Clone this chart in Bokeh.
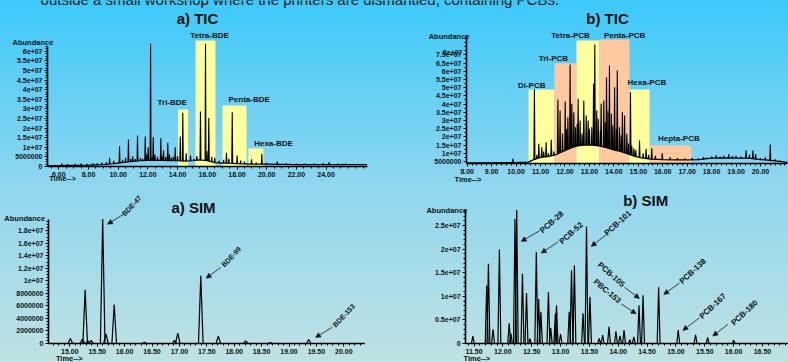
import numpy as np
from bokeh.plotting import figure
from bokeh.layouts import column, row
from bokeh.models import FixedTicker, Label, Arrow, NormalHead, NumeralTickFormatter
from bokeh.embed import file_html
from bokeh.resources import INLINE

FONT = "Liberation Sans"
INK = "#111111"
YELLOW = "#FFFF9E"
PEACH = "#FFC9A0"

# ---------------- data ----------------
top_caption = "outside a small workshop where the printers are dismantled, containing PCBs."

# a) TIC (BDE)
tic_a_peak_t = [6.2, 6.6, 7.1, 7.5, 7.9, 8.3, 8.6, 8.9, 9.2, 9.42,
                9.7, 10.09, 10.3, 10.5, 10.69, 10.85, 10.98, 11.15, 11.3, 11.5,
                11.65, 11.82, 11.93, 12.02, 12.18, 12.28, 12.36, 12.47, 12.65, 12.87,
                12.95, 13.05, 13.2, 13.34, 13.45, 13.57, 13.7, 13.84, 14.0, 14.18,
                14.35, 14.58, 14.87, 15.1, 15.3, 15.54, 15.88, 15.98, 16.1, 16.3,
                16.5, 16.8, 17.1, 17.29, 17.45, 17.68, 18.01, 18.24, 18.5, 18.98,
                19.3, 19.67, 20.0, 20.71, 21.3, 22.0, 22.6, 23.2, 23.8, 24.2,
                24.8, 25.3]
tic_a_peak_h = [0.15e7, 0.12e7, 0.14e7, 0.15e7, 0.13e7, 0.16e7, 0.17e7, 0.2e7, 0.22e7, 0.45e7,
                0.3e7, 1.06e7, 0.35e7, 0.45e7, 1.41e7, 0.4e7, 0.53e7, 0.38e7, 1.61e7, 0.45e7,
                0.4e7, 1.56e7, 0.66e7, 1.0e7, 6.39e7, 0.5e7, 1.53e7, 0.63e7, 0.5e7, 1.49e7,
                0.55e7, 0.83e7, 0.5e7, 1.23e7, 0.63e7, 0.45e7, 0.5e7, 1.0e7, 0.55e7, 1.56e7,
                2.8e7, 0.69e7, 0.57e7, 0.4e7, 0.55e7, 2.86e7, 6.39e7, 0.8e7, 2.52e7, 0.5e7,
                0.45e7, 0.3e7, 0.35e7, 0.71e7, 0.4e7, 2.83e7, 0.57e7, 0.31e7, 0.25e7, 0.38e7,
                0.2e7, 0.66e7, 0.18e7, 0.25e7, 0.15e7, 0.14e7, 0.15e7, 0.15e7, 0.17e7, 0.22e7,
                0.15e7, 0.14e7]
tic_a_base_t = [5.3, 6, 7, 8, 9, 9.5, 10, 10.5, 11, 11.5, 12, 12.5, 13, 13.5, 14, 14.5,
                15, 15.5, 16, 16.5, 17, 17.5, 18, 19, 20, 21, 22, 23, 24, 25, 26, 26.75]
tic_a_base_h = [0.05e7, 0.05e7, 0.06e7, 0.07e7, 0.1e7, 0.13e7, 0.18e7, 0.22e7, 0.26e7, 0.3e7,
                0.32e7, 0.32e7, 0.32e7, 0.3e7, 0.3e7, 0.28e7, 0.3e7, 0.35e7, 0.3e7, 0.2e7,
                0.18e7, 0.17e7, 0.15e7, 0.12e7, 0.12e7, 0.11e7, 0.1e7, 0.1e7, 0.1e7, 0.1e7,
                0.1e7, 0.1e7]
tic_a_groups = ["Tri-BDE", "Tetra-BDE", "Penta-BDE", "Hexa-BDE"]
tic_a_group_start = [14.04, 15.21, 17.02, 18.77]
tic_a_group_end = [14.71, 16.55, 18.64, 19.78]
tic_a_group_top = [2.97e7, 6.56e7, 3.18e7, 0.94e7]
tic_a_xticks = [6, 8, 10, 12, 14, 16, 18, 20, 22, 24]
tic_a_yticks = [0, 5000000, 10000000, 15000000, 20000000, 25000000, 30000000,
                35000000, 40000000, 45000000, 50000000, 55000000, 60000000]
tic_a_ylabels = ["0", "5000000", "1e+07", "1.5e+07", "2e+07", "2.5e+07", "3e+07",
                 "3.5e+07", "4e+07", "4.5e+07", "5e+07", "5.5e+07", "6e+07"]

# b) TIC (PCB)
tic_b_peak_t = [9.87, 10.62, 10.75, 10.85, 10.93, 11.05, 11.13, 11.23, 11.32, 11.44,
                11.55, 11.71, 11.8, 11.9, 12.01, 12.07, 12.12, 12.21, 12.28, 12.36,
                12.43, 12.5, 12.54, 12.62, 12.7, 12.77, 12.87, 12.95, 13.0, 13.1,
                13.17, 13.22, 13.3, 13.36, 13.45, 13.48, 13.59, 13.65, 13.7, 13.76,
                13.82, 13.9, 13.96, 14.03, 14.1, 14.14, 14.23, 14.3, 14.35, 14.44,
                14.53, 14.6, 14.68, 14.73, 14.82, 14.9, 15.05, 15.2, 15.32, 15.42,
                15.55, 15.7, 15.98, 16.3, 16.6, 16.9, 17.2, 17.45, 17.67, 17.8,
                18.0, 18.19, 18.35, 18.5, 18.7, 18.85, 19.0, 19.2, 19.41, 19.55,
                19.69, 19.8, 20.0, 20.2, 20.4, 20.6, 20.8]
tic_b_peak_h = [0.66e7, 0.55e7, 4.9e7, 0.9e7, 1.58e7, 1.37e7, 1.1e7, 1.68e7, 1.0e7, 1.82e7,
                1.1e7, 4.28e7, 3.61e7, 2.2e7, 4.16e7, 2.5e7, 3.2e7, 6.41e7, 4.02e7, 3.5e7,
                2.59e7, 2.8e7, 4.32e7, 3.0e7, 2.2e7, 4.22e7, 3.3e7, 3.0e7, 2.49e7, 2.6e7,
                5.24e7, 7.63e7, 3.61e7, 3.1e7, 2.4e7, 4.02e7, 4.22e7, 2.9e7, 5.64e7, 3.6e7,
                6.35e7, 3.41e7, 2.7e7, 5.03e7, 2.5e7, 6.05e7, 2.59e7, 2.1e7, 3.5e7, 3.3e7,
                2.19e7, 1.6e7, 4.73e7, 1.48e7, 1.3e7, 1.2e7, 1.78e7, 1.0e7, 1.27e7, 0.9e7,
                1.31e7, 0.85e7, 1.0e7, 0.75e7, 0.7e7, 0.68e7, 0.7e7, 0.68e7, 0.76e7, 0.72e7,
                0.8e7, 0.87e7, 0.8e7, 0.85e7, 0.93e7, 0.82e7, 0.85e7, 0.8e7, 1.17e7, 0.9e7,
                1.17e7, 0.95e7, 0.7e7, 0.75e7, 1.54e7, 0.62e7, 0.55e7]
tic_b_base_t = [7.97, 9.0, 10.0, 10.5, 10.7, 11.0, 11.3, 11.6, 11.9, 12.2, 12.5, 12.8,
                13.1, 13.4, 13.7, 14.0, 14.3, 14.6, 14.9, 15.2, 15.5, 16.0, 16.5, 17.0,
                17.5, 18.0, 18.5, 19.0, 19.5, 20.0, 20.5, 21.1]
tic_b_base_h = [0.42e7, 0.42e7, 0.44e7, 0.46e7, 0.6e7, 0.75e7, 0.8e7, 0.9e7, 1.1e7, 1.3e7,
                1.45e7, 1.5e7, 1.5e7, 1.45e7, 1.35e7, 1.2e7, 1.1e7, 0.95e7, 0.8e7, 0.7e7,
                0.65e7, 0.62e7, 0.6e7, 0.6e7, 0.62e7, 0.7e7, 0.72e7, 0.7e7, 0.7e7, 0.62e7,
                0.55e7, 0.45e7]
tic_b_groups = ["Di-PCB", "Tri-PCB", "Tetra-PCB", "Penta-PCB", "Hexa-PCB", "Hepta-PCB"]
tic_b_group_start = [10.51, 11.57, 12.47, 13.40, 14.64, 15.46]
tic_b_group_end = [11.57, 12.47, 13.40, 14.64, 15.46, 17.17]
tic_b_group_top = [4.89e7, 6.49e7, 7.88e7, 7.94e7, 4.89e7, 1.48e7]
tic_b_group_color = [YELLOW, PEACH, YELLOW, PEACH, YELLOW, PEACH]
tic_b_xticks = [8, 9, 10, 11, 12, 13, 14, 15, 16, 17, 18, 19, 20]
tic_b_yticks = [5000000, 10000000, 15000000, 20000000, 25000000, 30000000, 35000000,
                40000000, 45000000, 50000000, 55000000, 60000000, 65000000, 70000000]
tic_b_ylabels = ["5000000", "1e+07", "1.5e+07", "2e+07", "2.5e+07", "3e+07", "3.5e+07",
                 "4e+07", "4.5e+07", "5e+07", "5.5e+07", "6e+07", "6.5e+07", "7.5e+07"]

# a) SIM (BDE)
sim_a_peak_t = [15.01, 15.23, 15.28, 15.33, 15.39, 15.60, 15.66, 15.81, 16.36, 16.91,
                16.97, 17.39, 17.71, 18.21, 18.66, 19.36]
sim_a_peak_h = [0.8e6, 0.7e6, 8.57e6, 0.4e6, 0.5e6, 19.9e6, 1.55e6, 6.23e6, 0.2e6, 0.5e6,
                1.65e6, 10.8e6, 1.17e6, 0.43e6, 0.15e6, 0.64e6]
sim_a_names = ["BDE-47", "BDE-99", "BDE-153"]
sim_a_xticks = [15.0, 15.5, 16.0, 16.5, 17.0, 17.5, 18.0, 18.5, 19.0, 19.5, 20.0]
sim_a_yticks = [0, 2000000, 4000000, 6000000, 8000000, 10000000, 12000000,
                14000000, 16000000, 18000000]
sim_a_ylabels = ["0", "2000000", "4000000", "6000000", "8000000", "1e+07", "1.2e+07",
                 "1.4e+07", "1.6e+07", "1.8e+07"]

# b) SIM (PCB)
sim_b_peak_t = [11.48, 11.72, 11.75, 11.83, 11.94, 12.11, 12.14, 12.21, 12.24, 12.34,
                12.41, 12.47, 12.58, 12.62, 12.66, 12.79, 12.83, 12.91, 12.93, 13.0,
                13.15, 13.19, 13.24, 13.39, 13.45, 13.51, 13.67, 13.73, 13.84, 13.96,
                14.03, 14.10, 14.2, 14.27, 14.36, 14.43, 14.70, 15.04, 15.34, 15.55, 16.0]
sim_b_peak_h = [1.58e6, 12.3e6, 16.9e6, 3.0e6, 19.9e6, 4.26e6, 2.1e6, 26.4e6, 28.3e6, 14.8e6,
                10.7e6, 1.0e6, 19.4e6, 9.45e6, 6.7e6, 10.9e6, 3.3e6, 6.4e6, 8.1e6, 2.0e6,
                6.7e6, 15.5e6, 16.6e6, 6.4e6, 24.8e6, 9.9e6, 1.1e6, 1.8e6, 3.55e6, 2.6e6,
                1.6e6, 2.85e6, 0.8e6, 1.4e6, 8.1e6, 10.2e6, 11.9e6, 2.85e6, 1.86e6, 1.3e6, 0.7e6]
sim_b_names = ["PCB-28", "PCB-52", "PCB-101", "PCB-105", "PBC-153", "PCB-138", "PCB-167", "PCB-180"]
sim_b_xticks = [11.5, 12.0, 12.5, 13.0, 13.5, 14.0, 14.5, 15.0, 15.5, 16.0, 16.5]
sim_b_yticks = [0, 5000000, 10000000, 15000000, 20000000, 25000000]
sim_b_ylabels = ["0", "0.5e+07", "1e+07", "1.5e+07", "2e+07", "2.5e+07"]


# ---------------- helpers ----------------
def make_fig(w, h, xr, yr, x_axis_at, y_axis_at, xbounds, ybounds):
    p = figure(width=w, height=h, x_range=xr, y_range=yr, output_backend="svg",
               toolbar_location=None, title=None,
               min_border_left=0, min_border_right=0, min_border_top=0, min_border_bottom=0)
    p.grid.visible = False
    p.outline_line_color = None
    p.background_fill_alpha = 0
    p.border_fill_alpha = 0
    p.xaxis.fixed_location = x_axis_at
    p.yaxis.fixed_location = y_axis_at
    p.xaxis.bounds = xbounds
    p.yaxis.bounds = ybounds
    for ax in (p.xaxis[0], p.yaxis[0]):
        ax.axis_line_color = "black"
        ax.axis_line_width = 1.6
        ax.major_tick_line_color = "black"
        ax.major_tick_in = 0
        ax.major_tick_out = 3
        ax.minor_tick_line_color = "black"
        ax.minor_tick_in = 0
        ax.minor_tick_out = 2
        ax.major_label_text_font = FONT
        ax.major_label_text_font_style = "bold"
        ax.major_label_text_font_size = "7px"
        ax.major_label_text_color = INK
        ax.major_label_standoff = 2
    return p


def set_ticks(p, xt, xminor, yt, yminor, ylabels):
    p.xaxis.ticker = FixedTicker(ticks=xt, minor_ticks=list(xminor))
    p.xaxis.formatter = NumeralTickFormatter(format="0.00")
    p.yaxis.ticker = FixedTicker(ticks=yt, minor_ticks=list(yminor))
    p.yaxis.major_label_overrides = {t: l for t, l in zip(yt, ylabels)}


def lab(p, x, y, text, size="8px", bold=True, align="center", baseline="middle", angle=0.0):
    p.add_layout(Label(x=x, y=y, text=text, text_font=FONT, text_font_size=size,
                       text_font_style="bold" if bold else "normal", text_color=INK,
                       text_align=align, text_baseline=baseline, angle=angle))


def arrow(p, x0, y0, x1, y1):
    p.add_layout(Arrow(end=NormalHead(size=5, fill_color=INK, line_color=INK, line_width=0.5),
                       x_start=x0, y_start=y0, x_end=x1, y_end=y1,
                       line_color=INK, line_width=0.8))


def tic_trace(p, pt, ph, bt, bh, w):
    foot = np.interp(pt, bt, bh)
    xs = [[t - w, t, t + w] for t in pt]
    ys = [[f, hh, f] for f, hh in zip(foot, ph)]
    p.multi_line(xs, ys, line_color="black", line_width=1.1)
    p.line(bt, bh, line_color="black", line_width=1.2)


def sim_trace(p, pt, ph, w, x0, x1):
    xs = [[t - w, t, t + w] for t in pt]
    ys = [[0, hh, 0] for hh in ph]
    p.line([x0, x1], [0, 0], line_color="black", line_width=1.2)
    p.multi_line(xs, ys, line_color="black", line_width=1.2)


# ---------------- a) TIC ----------------
ta = make_fig(394, 183, (2.074, 28.606), (-8.854e6, 8.646e7), 0, 5.239,
              (5.239, 26.79), (0, 6.25e7))
set_ticks(ta, tic_a_xticks, np.arange(5.5, 26.7, 0.5), tic_a_yticks,
          np.arange(0, 6.26e7, 1.25e6), tic_a_ylabels)
ta.quad(left=tic_a_group_start, right=tic_a_group_end, bottom=0, top=tic_a_group_top,
        fill_color=YELLOW, line_color=None)
tic_trace(ta, tic_a_peak_t, tic_a_peak_h, tic_a_base_t, tic_a_base_h, 0.03)
for name, x, y in zip(tic_a_groups, [13.64, 16.15, 18.82, 20.46], [3.35e7, 6.84e7, 3.47e7, 1.18e7]):
    lab(ta, x, y, name)
lab(ta, 15.34, 7.71e7, "a) TIC", size="15px")
lab(ta, 4.26, 6.47e7, "Abundance", size="7.5px")
lab(ta, 6.25, -6.5e6, "Time-->", size="7.5px")
lab(ta, 4.77, 8.72e7, top_caption, size="15px", bold=False, align="left", baseline="alphabetic")

# ---------------- b) TIC ----------------
tb = make_fig(394, 183, (5.025, 21.146), (-8.415e6, 1.0317e8), 3.78e6, 7.971,
              (7.971, 21.106), (3.78e6, 8.18e7))
set_ticks(tb, tic_b_xticks, np.arange(8.2, 21.1, 0.2), tic_b_yticks,
          np.arange(5e6, 8.1e7, 2.5e6), tic_b_ylabels)
tb.quad(left=tic_b_group_start, right=tic_b_group_end, bottom=3.78e6, top=tic_b_group_top,
        fill_color=tic_b_group_color, line_color=None)
tic_trace(tb, tic_b_peak_t, tic_b_peak_h, tic_b_base_t, tic_b_base_h, 0.02)
for name, x, y in zip(tic_b_groups, [10.64, 11.53, 12.23, 14.44, 15.35, 16.66],
                      [5.12e7, 6.8e7, 8.2e7, 8.2e7, 5.3e7, 1.92e7]):
    lab(tb, x, y, name)
lab(tb, 13.74, 9.2e7, "b) TIC", size="15px")
lab(tb, 7.26, 8.12e7, "Abundance", size="7.5px")
lab(tb, 7.808, 7.12e7, "8e+07", size="7px", align="right")
lab(tb, 8.03, -6.0e6, "Time-->", size="7.5px")
lab(tb, -9.46, 1.0407e8, top_caption, size="15px", bold=False, align="left", baseline="alphabetic")

# ---------------- a) SIM ----------------
sa = make_fig(394, 179, (13.735, 20.925), (-3.035e6, 2.556e7), 0, 14.611,
              (14.611, 20.378), (0, 1.98e7))
set_ticks(sa, sim_a_xticks, np.arange(14.7, 20.38, 0.1), sim_a_yticks,
          np.arange(0, 1.99e7, 5e5), sim_a_ylabels)
sim_trace(sa, sim_a_peak_t, sim_a_peak_h, 0.042, 14.611, 20.378)
sim_a_text = [(16.13, 2.2e7), (17.945, 1.385e7), (20.0, 4.47e6)]
sim_a_head = [(15.688, 1.906e7), (17.489, 1.043e7), (19.484, 0.96e6)]
sim_a_tail = [(15.98, 2.065e7), (17.75, 1.214e7), (19.79, 2.6e6)]
for name, (tx, ty), (hx, hy), (qx, qy) in zip(sim_a_names, sim_a_text, sim_a_head, sim_a_tail):
    arrow(sa, qx, qy, hx, hy)
    lab(sa, tx, ty, name, size="7px", angle=0.82)
lab(sa, 17.257, 2.17e7, "a) SIM", size="15px")
lab(sa, 14.177, 1.99e7, "Abundance", size="7.5px")
lab(sa, 14.99, -2.44e6, "Time-->", size="7.5px")

# ---------------- b) SIM ----------------
sb = make_fig(394, 179, (10.122, 16.951), (-4.025e6, 3.39e7), 0, 11.353,
              (11.353, 16.933), (0, 2.84e7))
set_ticks(sb, sim_b_xticks, np.arange(11.4, 16.93, 0.1), sim_b_yticks,
          np.arange(0, 2.85e7, 1e6), sim_b_ylabels)
sim_trace(sb, sim_b_peak_t, sim_b_peak_h, 0.025, 11.353, 16.933)
sim_b_text = [(12.848, 2.57e7), (13.185, 2.338e7), (13.992, 2.549e7), (13.878, 1.46e7),
              (13.808, 1.108e7), (15.292, 1.53e7), (15.639, 7.91e6), (16.188, 6.5e6)]
sim_b_head = [(12.318, 2.162e7), (12.665, 1.916e7), (13.531, 2.057e7), (14.368, 9.54e6),
              (14.311, 6.29e6), (14.789, 1.038e7), (15.119, 2.78e6), (15.639, 1.58e6)]
sim_b_tail = [(12.635, 2.388e7), (12.952, 2.148e7), (13.791, 2.304e7), (14.108, 1.192e7),
              (14.051, 8.4e6), (15.062, 1.283e7), (15.408, 5.44e6), (15.899, 4.05e6)]
sim_b_angle = [0.73, 0.73, 0.73, -0.73, -0.70, 0.75, 0.75, 0.75]
for name, (tx, ty), (hx, hy), (qx, qy), a in zip(sim_b_names, sim_b_text, sim_b_head,
                                                 sim_b_tail, sim_b_angle):
    arrow(sb, qx, qy, hx, hy)
    lab(sb, tx, ty, name, size="8px", angle=a)
lab(sb, 14.476, 3.04e7, "b) SIM", size="15px")
lab(sb, 11.029, 2.81e7, "Abundance", size="7.5px")
lab(sb, 11.549, -3.2e6, "Time-->", size="7.5px")

root = column(row(ta, tb), row(sa, sb),
              styles={"background": "linear-gradient(180deg, #3CC9F9 0%, #8ED6EF 50%, #BFE2E3 100%)"})

open("out.html", "w").write(file_html(root, INLINE))
